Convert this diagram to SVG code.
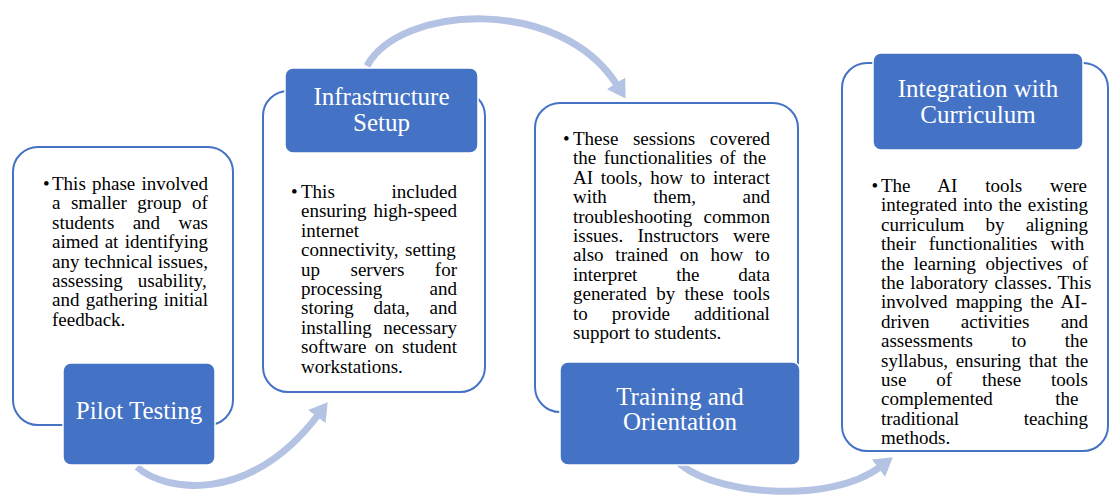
<svg xmlns="http://www.w3.org/2000/svg" width="1110" height="497" viewBox="0 0 1110 497">
  <style>
    .card{fill:#fff;stroke:#4472C4;stroke-width:2}
    .head{fill:#4472C4;stroke:#fff;stroke-width:1.5}
    .ht{font-size:25px;fill:#fff;text-anchor:middle}
    .bt{font-size:19px;fill:#000}
    .flow{fill:none;stroke:#B4C2E4;stroke-width:7;marker-end:url(#ah)}
  </style>
  <defs>
    <marker id="ah" markerUnits="userSpaceOnUse" markerWidth="20" markerHeight="22" refX="2" refY="11" orient="auto" viewBox="0 0 20 22">
      <path d="M0,0 L18,11 L0,22 Z" fill="#B4C2E4"/>
    </marker>
  </defs>
  <rect width="1110" height="497" fill="#fff"/>

  <!-- curved flow arrows between the phases -->
  <g id="connectors">
    <path class="flow" d="M137,467 C165,492 250,505 318,415"/>
    <path class="flow" d="M367,66 C400,5 560,-5 617,85"/>
    <path class="flow" d="M677,461 C710,495 830,505 880,467"/>
  </g>

  <g font-family="Liberation Serif, serif">
  <g id="pilot-testing">
    <rect class="card" x="13" y="147" width="220" height="278" rx="25"/>
    <text class="bt" x="43" y="190">•</text>
    <text class="bt" x="52" y="190" style="word-spacing:1.5px">This phase involved</text>
    <text class="bt" x="52" y="209.4" style="word-spacing:5.7px">a smaller group of</text>
    <text class="bt" x="52" y="228.8" style="word-spacing:13.6px">students and was</text>
    <text class="bt" x="52" y="248.2" style="word-spacing:1.5px">aimed at identifying</text>
    <text class="bt" x="52" y="267.6" style="word-spacing:0.15px">any technical issues,</text>
    <text class="bt" x="52" y="287" style="word-spacing:10.3px">assessing usability,</text>
    <text class="bt" x="52" y="306.4" style="word-spacing:1.5px">and gathering initial</text>
    <text class="bt" x="52" y="325.8">feedback.</text>
    <rect class="head" x="63" y="363" width="152" height="102" rx="8"/>
    <text class="ht" x="139" y="419">Pilot Testing</text>
  </g>

  <g id="infrastructure-setup">
    <rect class="card" x="263" y="91" width="222" height="301" rx="25"/>
    <text class="bt" x="291" y="198">•</text>
    <text class="bt" x="301" y="198" style="word-spacing:52px">This included</text>
    <text class="bt" x="301" y="217.4" style="word-spacing:2.4px">ensuring high-speed</text>
    <text class="bt" x="301" y="236.8">internet</text>
    <text class="bt" x="301" y="256.2" style="word-spacing:1.9px">connectivity, setting</text>
    <text class="bt" x="301" y="275.6" style="word-spacing:25.75px">up servers for</text>
    <text class="bt" x="301" y="295" style="word-spacing:42.6px">processing and</text>
    <text class="bt" x="301" y="314.4" style="word-spacing:14.95px">storing data, and</text>
    <text class="bt" x="301" y="333.8" style="word-spacing:6.7px">installing necessary</text>
    <text class="bt" x="301" y="353.2" style="word-spacing:3.6px">software on student</text>
    <text class="bt" x="301" y="372.6">workstations.</text>
    <rect class="head" x="285" y="68" width="193" height="85" rx="8"/>
    <text class="ht" x="381.5" y="105">Infrastructure</text>
    <text class="ht" x="381.5" y="131">Setup</text>
  </g>

  <g id="training-orientation">
    <rect class="card" x="535" y="103" width="263" height="309" rx="25"/>
    <text class="bt" x="563" y="145">•</text>
    <text class="bt" x="573" y="145" style="word-spacing:9.85px">These sessions covered</text>
    <text class="bt" x="573" y="164.4" style="word-spacing:2.67px">the functionalities of the</text>
    <text class="bt" x="573" y="183.8" style="word-spacing:2.95px">AI tools, how to interact</text>
    <text class="bt" x="573" y="203.2" style="word-spacing:41.8px">with them, and</text>
    <text class="bt" x="573" y="222.6" style="word-spacing:6.5px">troubleshooting common</text>
    <text class="bt" x="573" y="242" style="word-spacing:9.6px">issues. Instructors were</text>
    <text class="bt" x="573" y="261.4" style="word-spacing:7px">also trained on how to</text>
    <text class="bt" x="573" y="280.8" style="word-spacing:34.1px">interpret the data</text>
    <text class="bt" x="573" y="300.2" style="word-spacing:4.6px">generated by these tools</text>
    <text class="bt" x="573" y="319.6" style="word-spacing:19.3px">to provide additional</text>
    <text class="bt" x="573" y="339">support to students.</text>
    <rect class="head" x="560" y="362" width="240" height="103" rx="8"/>
    <text class="ht" x="680" y="405">Training and</text>
    <text class="ht" x="680" y="430">Orientation</text>
  </g>

  <g id="integration-curriculum">
    <rect class="card" x="842" y="63" width="266" height="388" rx="25"/>
    <text class="bt" x="871.5" y="192">•</text>
    <text class="bt" x="881" y="192" style="word-spacing:23.1px">The AI tools were</text>
    <text class="bt" x="881" y="211.4" style="word-spacing:1.27px">integrated into the existing</text>
    <text class="bt" x="881" y="230.8" style="word-spacing:16.4px">curriculum by aligning</text>
    <text class="bt" x="881" y="250.2" style="word-spacing:8.2px">their functionalities with</text>
    <text class="bt" x="881" y="269.6" style="word-spacing:4.8px">the learning objectives of</text>
    <text class="bt" x="881" y="289" style="word-spacing:1.3px">the laboratory classes. This</text>
    <text class="bt" x="881" y="308.4" style="word-spacing:3.4px">involved mapping the AI-</text>
    <text class="bt" x="881" y="327.8" style="word-spacing:26.5px">driven activities and</text>
    <text class="bt" x="881" y="347.2" style="word-spacing:33.8px">assessments to the</text>
    <text class="bt" x="881" y="366.6" style="word-spacing:2.9px">syllabus, ensuring that the</text>
    <text class="bt" x="881" y="386" style="word-spacing:25.2px">use of these tools</text>
    <text class="bt" x="881" y="405.4" style="word-spacing:57.7px">complemented the</text>
    <text class="bt" x="881" y="424.8" style="word-spacing:59.8px">traditional teaching</text>
    <text class="bt" x="881" y="444.2">methods.</text>
    <rect class="head" x="873" y="53" width="210" height="97" rx="8"/>
    <text class="ht" x="978" y="97">Integration with</text>
    <text class="ht" x="978" y="123">Curriculum</text>
  </g>
  </g>
</svg>
